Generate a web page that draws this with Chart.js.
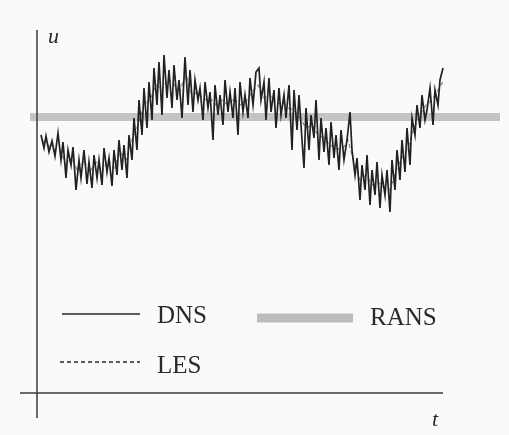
<!DOCTYPE html>
<html>
<head>
<meta charset="utf-8">
<style>
  html, body { margin: 0; padding: 0; background: #f9fafc; }
  #wrap { width: 509px; height: 435px; }
</style>
</head>
<body>
<div id="wrap"><canvas id="grafico" width="509" height="435"></canvas></div>
<script src="https://cdn.jsdelivr.net/npm/chart.js"></script>
<script>
  // t and u in arbitrary units (no ticks on the original figure)
  const dnsT = [4,7,9,12,15,18,21,24,26,29,31,34,36,39,42,44,47,50,52,55,57,60,62,65,67,70,72,75,77,80,
    82,85,87,90,92,95,97,100,102,105,107,110,112,115,117,120,122,125,127,130,132,135,137,140,142,145,148,151,153,156,
    158,161,163,166,168,171,173,176,178,181,183,186,188,191,193,196,198,201,203,206,208,211,213,216,219,222,224,227,229,232,
    234,237,239,242,244,247,249,252,255,257,260,262,265,267,269,272,274,277,279,282,284,287,289,292,294,297,299,302,304,307,
    310,313,315,318,320,323,325,328,330,333,335,338,340,343,345,348,350,353,355,358,360,363,365,368,370,373,375,378,380,383,
    385,388,390,393,396,398,401,403,406,408];
  const dnsU = [258,245,257,241,252,237,260,233,251,215,243,228,246,203,233,215,243,209,231,205,238,215,233,208,245,221,235,207,243,218,
    253,223,248,215,258,233,275,243,293,258,305,265,311,273,325,288,331,278,338,295,323,285,328,293,313,275,336,288,323,281,
    313,293,305,273,311,285,301,253,308,278,298,268,313,281,301,275,305,258,311,281,298,275,315,288,321,325,293,311,273,315,
    281,303,265,305,278,298,275,308,243,303,263,298,253,225,285,243,278,255,293,233,275,241,265,228,271,235,258,223,263,233,
    253,281,243,218,235,193,228,203,238,188,223,198,231,185,218,198,223,181,233,203,243,213,253,221,265,228,275,258,288,265,
    298,273,283,305,268,303,288,313,325,298];

  const lesT = [5,11,17,23,29,35,41,47,53,59,65,71,77,83,89,95,101,107,113,119,125,131,137,143,149,155,161,167,173,179,
    185,191,197,203,209,215,221,227,233,239,245,251,257,263,269,275,281,287,293,299,305,311,317,323,329,335,341,347,353,359,
    365,371,377,383,389,395,401,407];
  const lesU = [253,248,243,243,228,235,221,233,221,231,221,233,225,241,233,253,268,288,293,308,303,315,308,303,318,298,301,293,295,288,
    293,288,295,288,291,301,308,295,298,288,291,285,283,275,265,268,258,255,248,245,243,253,231,213,218,208,211,205,203,223,
    235,245,265,278,288,293,303,313];

  const ransT = [-7, 463];
  const ransU = [276, 276];

  const xMax = 406, yMax = 363;
  const legendItens = ['DNS', 'LES', 'RANS'];

  function pontos(ts, us) {
    return ts.map((t, k) => ({ x: t, y: us[k] }));
  }

  const eixosPlugin = {
    id: 'eixos',
    afterDatasetsDraw(chart) {
      const ctx = chart.ctx;
      const a = chart.chartArea;
      ctx.save();
      ctx.strokeStyle = '#3c3c3c';
      ctx.lineWidth = 1.5;
      ctx.beginPath();
      ctx.moveTo(a.left, a.top);
      ctx.lineTo(a.left, a.bottom + 25);
      ctx.moveTo(a.left - 17, a.bottom);
      ctx.lineTo(a.right, a.bottom);
      ctx.stroke();

      ctx.fillStyle = '#2a2a2a';
      ctx.font = 'italic 22px "Liberation Serif", serif';
      ctx.fillText('u', a.left + 11, a.top + 13);
      ctx.fillText('t', a.right - 11, a.bottom + 33);

      // legend
      ctx.font = '25px "Liberation Serif", serif';
      ctx.strokeStyle = '#2a2a2a';
      ctx.lineWidth = 1.6;
      ctx.beginPath();
      ctx.moveTo(62, 314); ctx.lineTo(140, 314);
      ctx.stroke();
      ctx.fillText(legendItens[0], 157, 323);

      ctx.setLineDash([4, 3]);
      ctx.beginPath();
      ctx.moveTo(60, 362); ctx.lineTo(140, 362);
      ctx.stroke();
      ctx.setLineDash([]);
      ctx.fillText(legendItens[1], 157, 373);

      ctx.strokeStyle = '#bcbcbc';
      ctx.lineWidth = 9;
      ctx.beginPath();
      ctx.moveTo(257, 318); ctx.lineTo(353, 318);
      ctx.stroke();
      ctx.fillText(legendItens[2], 370, 325);
      ctx.restore();
    }
  };

  new Chart(document.getElementById('grafico').getContext('2d'), {
    type: 'line',
    data: {
      datasets: [
        {
          label: 'DNS',
          data: pontos(dnsT, dnsU),
          borderColor: '#222',
          borderWidth: 1.7,
          pointRadius: 0,
          tension: 0,
          clip: false,
          order: 1
        },
        {
          label: 'LES',
          data: pontos(lesT, lesU),
          borderColor: 'rgba(80, 80, 80, 0.7)',
          borderWidth: 1.2,
          borderDash: [4, 3],
          pointRadius: 0,
          tension: 0,
          clip: false,
          order: 2
        },
        {
          label: 'RANS',
          data: pontos(ransT, ransU),
          borderColor: '#c4c4c4',
          borderWidth: 8,
          pointRadius: 0,
          clip: false,
          order: 3
        }
      ]
    },
    options: {
      responsive: false,
      animation: false,
      layout: { padding: { left: 37, right: 66, top: 30, bottom: 42 } },
      plugins: { legend: { display: false }, tooltip: { enabled: false } },
      scales: {
        x: { type: 'linear', min: 0, max: xMax, display: false },
        y: { type: 'linear', min: 0, max: yMax, display: false }
      }
    },
    plugins: [eixosPlugin]
  });
</script>
</body>
</html>
